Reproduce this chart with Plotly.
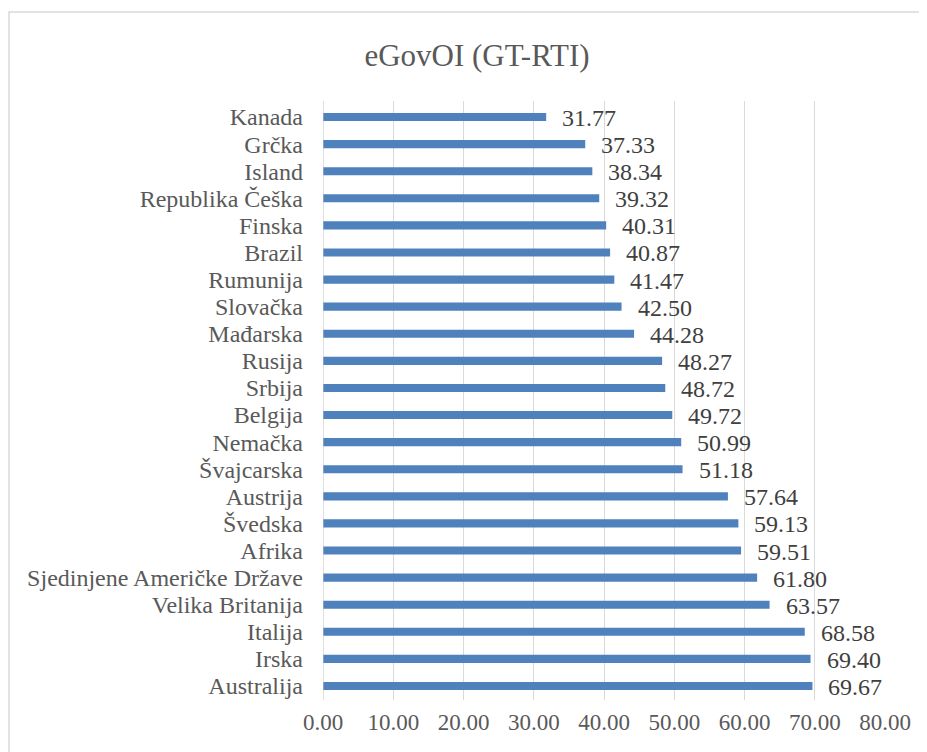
import plotly.graph_objects as go

countries = ["Kanada", "Grčka", "Island", "Republika Češka", "Finska", "Brazil", "Rumunija",
             "Slovačka", "Mađarska", "Rusija", "Srbija", "Belgija", "Nemačka", "Švajcarska",
             "Austrija", "Švedska", "Afrika", "Sjedinjene Američke Države", "Velika Britanija",
             "Italija", "Irska", "Australija"]
values = [31.77, 37.33, 38.34, 39.32, 40.31, 40.87, 41.47, 42.50, 44.28, 48.27, 48.72, 49.72,
          50.99, 51.18, 57.64, 59.13, 59.51, 61.80, 63.57, 68.58, 69.40, 69.67]
x_ticks = [0, 10, 20, 30, 40, 50, 60, 70, 80]
title_text = "eGovOI (GT-RTI)"

FONT = "Liberation Serif"
OFF = 8  # page body margin offset
W, H = 927 - OFF, 752 - OFF
L, R, T, B = 323 - OFF, 42, 101 - OFF, 52
pw, ph = W - L - R, H - T - B

def px_x(p):  # reference pixel -> paper
    return (p - OFF - L) / pw

def px_y(p):
    return (H - B - (p - OFF)) / ph

fig = go.Figure(go.Bar(
    x=values, y=countries, orientation="h",
    marker=dict(color="#4F81BD", line=dict(width=0)),
    width=0.3,
    hoverinfo="x+y",
))

for c, v in zip(countries, values):
    fig.add_annotation(x=v, y=c, xref="x", yref="y", text=f"{v:.2f}",
                       showarrow=False, xanchor="left", yanchor="middle",
                       xshift=14, yshift=-1,
                       font=dict(family=FONT, size=24, color="#404040"))

fig.update_layout(
    width=W, height=H,
    margin=dict(l=L, r=R, t=T, b=B),
    paper_bgcolor="white", plot_bgcolor="white",
    showlegend=False,
    title=dict(text=title_text, x=(477 - OFF) / W, xref="container", xanchor="center",
               y=1 - (55 - OFF) / H, yref="container", yanchor="middle",
               font=dict(family=FONT, size=31, color="#595959")),
    xaxis=dict(range=[0, 80], tickvals=x_ticks, ticktext=[f"{t:.2f}" for t in x_ticks],
               showgrid=True, gridcolor="#D9D9D9", gridwidth=1, zeroline=False,
               showline=False, ticks="", ticklen=0, ticklabelstandoff=6,
               tickfont=dict(family=FONT, size=23, color="#595959")),
    yaxis=dict(categoryorder="array", categoryarray=countries, autorange="reversed",
               tickmode="array", tickvals=countries, ticktext=countries,
               showgrid=False, zeroline=False, showline=False, ticks="",
               ticklabelstandoff=19,
               tickfont=dict(family=FONT, size=24, color="#595959")),
    shapes=[
        dict(type="line", xref="x", yref="paper", x0=0, x1=0, y0=0, y1=1,
             line=dict(color="#BFBFBF", width=1)),
        dict(type="rect", xref="paper", yref="paper",
             x0=px_x(9), x1=px_x(940), y0=px_y(12), y1=px_y(770),
             line=dict(color="#D9D9D9", width=1.5), fillcolor="rgba(0,0,0,0)", layer="below"),
    ],
)

fig.write_html("out.html")
